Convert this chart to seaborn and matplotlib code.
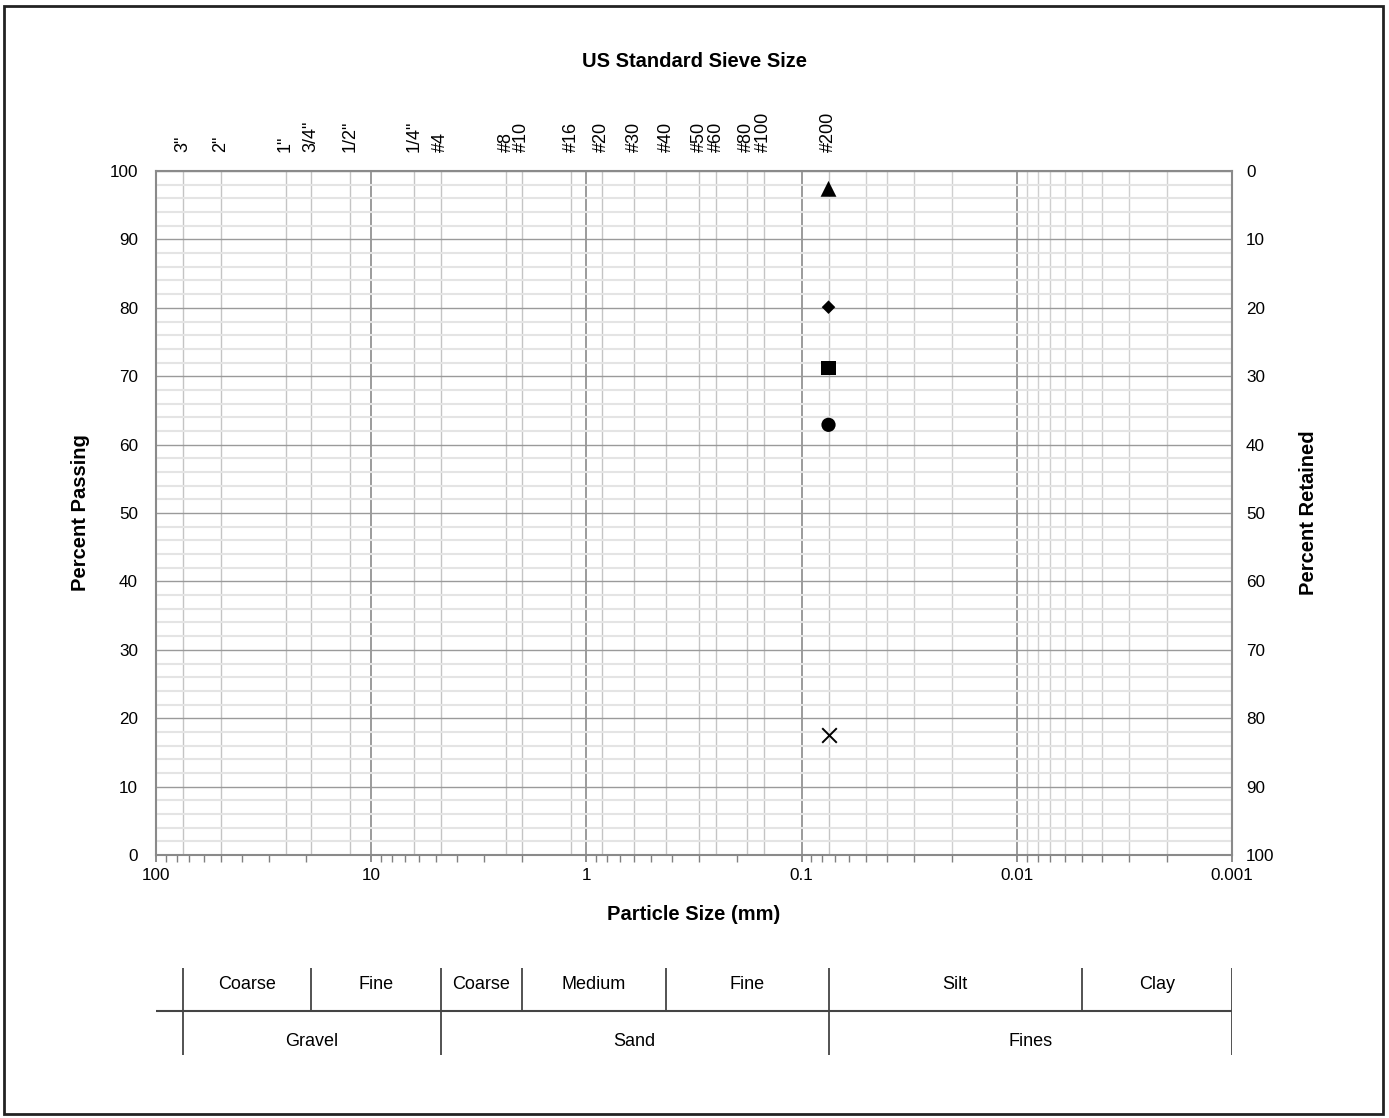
import numpy as np
import pandas as pd
import matplotlib
matplotlib.use("Agg")
import matplotlib.pyplot as plt
import matplotlib.ticker as mticker
from matplotlib.patches import Rectangle
import seaborn as sns

# sieve designations and openings (mm)
sieve_names = ['3"', '2"', '1"', '3/4"', '1/2"', '1/4"', '#4', '#8', '#10', '#16',
               '#20', '#30', '#40', '#50', '#60', '#80', '#100', '#200']
sieve_mm = [75, 50, 25, 19, 12.5, 6.3, 4.75, 2.36, 2.0, 1.18,
            0.85, 0.6, 0.425, 0.3, 0.25, 0.18, 0.15, 0.075]

# extra grid lines in the fines range (mm)
fines_grid = [0.05, 0.04, 0.03, 0.02, 0.009, 0.008, 0.007, 0.006, 0.005, 0.004, 0.003, 0.002]

# test results at the #200 sieve
samples = ['A', 'B', 'C', 'D']
sample_size = [0.075, 0.075, 0.075, 0.075]
sample_passing = [97.4, 80.1, 71.2, 62.9]
sample_markers = {'A': '^', 'B': 'D', 'C': 's', 'D': 'o'}
sample_sizes = {'A': 130, 'B': 48, 'C': 110, 'D': 105}
x_size = [0.075]
x_passing = [17.5]

# soil classification bands (mm)
sub_bounds = [75, 19, 4.75, 2.0, 0.425, 0.075, 0.005, 0.001]
sub_names = ['Coarse', 'Fine', 'Coarse', 'Medium', 'Fine', 'Silt', 'Clay']
main_bounds = [75, 4.75, 0.075, 0.001]
main_names = ['Gravel', 'Sand', 'Fines']

sns.set_theme(style='white')
plt.rcParams['font.family'] = ['Liberation Sans', 'DejaVu Sans']
plt.rcParams['text.color'] = 'black'
plt.rcParams['axes.labelcolor'] = 'black'
plt.rcParams['xtick.color'] = 'black'
plt.rcParams['ytick.color'] = 'black'
FS = 12.3      # tick labels
FS_TOP = 13    # sieve labels and table text
FS_LAB = 14.5  # bold axis titles

fig = plt.figure(figsize=(13.89, 11.18), dpi=100)
ax = fig.add_axes([0.1123, 0.2352, 0.7747, 0.6118])

ax.set_xscale('log')
ax.set_xlim(100, 0.001)
ax.set_ylim(0, 100)

# horizontal grid
ax.yaxis.set_major_locator(mticker.MultipleLocator(10))
ax.yaxis.set_minor_locator(mticker.MultipleLocator(2))
ax.grid(True, which='major', axis='y', color='#9a9a9a', lw=1.0, zorder=1)
ax.grid(True, which='minor', axis='y', color='#e4e4e4', lw=1.5, zorder=0)

# decade lines
ax.xaxis.set_major_locator(mticker.FixedLocator([100, 10, 1, 0.1, 0.01, 0.001]))
ax.xaxis.set_major_formatter(mticker.FixedFormatter(['100', '10', '1', '0.1', '0.01', '0.001']))
ax.xaxis.set_minor_locator(mticker.LogLocator(base=10, subs=np.arange(2, 10)))
ax.xaxis.set_minor_formatter(mticker.NullFormatter())
ax.grid(True, which='major', axis='x', color='#8a8a8a', lw=1.2, zorder=1)
for v in fines_grid:
    ax.axvline(v, color='#cfcfcf', lw=1.0, zorder=0.5)

ax.tick_params(axis='y', which='both', length=0, labelsize=FS, pad=13)
ax.tick_params(axis='x', which='both', direction='out', length=5, color='#808080',
               bottom=True, labelsize=FS, pad=4)
for s in ax.spines.values():
    s.set_color('#8a8a8a')
    s.set_linewidth(1.5)

# top axis: sieve sizes, also drawn as vertical grid lines
top = ax.twiny()
top.set_xscale('log')
top.set_xlim(100, 0.001)
top.xaxis.set_major_locator(mticker.FixedLocator(sieve_mm))
top.xaxis.set_major_formatter(mticker.FixedFormatter(sieve_names))
top.xaxis.set_minor_locator(mticker.NullLocator())
top.tick_params(axis='x', length=0, labelsize=FS_TOP, pad=14, labelrotation=90)
top.grid(True, which='major', axis='x', color='#c4c4c4', lw=1.0, zorder=0.5)
top.set_xlabel('US Standard Sieve Size', fontsize=FS_LAB, fontweight='bold', labelpad=32)
for s in top.spines.values():
    s.set_visible(False)
top.set_zorder(0)
ax.set_zorder(1)
ax.patch.set_visible(False)

# right axis: percent retained
right = ax.twinx()
right.set_ylim(100, 0)
right.yaxis.set_major_locator(mticker.MultipleLocator(10))
right.tick_params(axis='y', length=0, labelsize=FS, pad=10)
right.set_ylabel('Percent Retained', fontsize=FS_LAB, fontweight='bold', labelpad=18)
right.grid(False)
for s in right.spines.values():
    s.set_visible(False)

# data points
df = pd.DataFrame({'size': sample_size, 'passing': sample_passing, 'sample': samples})
sns.scatterplot(data=df, x='size', y='passing', style='sample', markers=sample_markers,
                size='sample', sizes=sample_sizes, color='black', edgecolor='black',
                linewidth=0, legend=False, ax=ax, zorder=5)
sns.scatterplot(x=x_size, y=x_passing, marker='x', s=110, color='black', linewidth=1.4,
                legend=False, ax=ax, zorder=5)
ax.set_xlim(100, 0.001)
ax.set_ylim(0, 100)
ax.set_xlabel('Particle Size (mm)', fontsize=FS_LAB, fontweight='bold', labelpad=16)
ax.set_ylabel('Percent Passing', fontsize=FS_LAB, fontweight='bold', labelpad=14)

# classification table
tab = fig.add_axes([0.1123, 0.0564, 0.7747, 0.0778])
tab.set_xscale('log')
tab.set_xlim(100, 0.001)
tab.set_ylim(0, 2)
tab.axis('off')
tab.axhline(1, color='#444444', lw=1.5)
for b in sub_bounds:
    top_only = b not in main_bounds
    tab.plot([b, b], [1 if top_only else 0, 2], color='#444444', lw=1.3)
for i, name in enumerate(sub_names):
    xc = np.sqrt(sub_bounds[i] * sub_bounds[i + 1])
    tab.text(xc, 1.62, name, ha='center', va='center', fontsize=FS_TOP)
for i, name in enumerate(main_names):
    xc = np.sqrt(main_bounds[i] * main_bounds[i + 1])
    tab.text(xc, 0.3, name, ha='center', va='center', fontsize=FS_TOP)

# outer frame
fig.patches.append(Rectangle((0.003, 0.004), 0.993, 0.991, transform=fig.transFigure,
                             fill=False, edgecolor='#222222', lw=2))

fig.savefig('out.png', dpi=100)
